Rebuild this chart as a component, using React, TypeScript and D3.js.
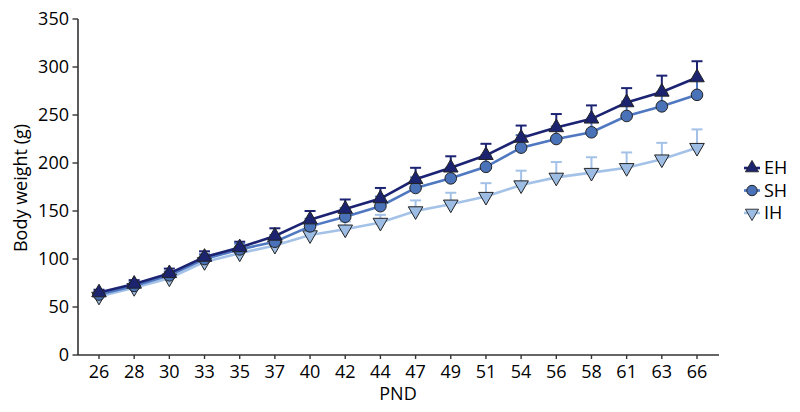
import React from "react";
import * as d3 from "d3";

const width = 800;
const height = 412;

const days = ["26", "28", "30", "33", "35", "37", "40", "42", "44", "47", "49", "51", "54", "56", "58", "61", "63", "66"];
const ehMean = [65, 74, 85, 102, 112, 124, 141, 152, 163, 183, 195, 208, 226, 237, 246, 263, 274, 289];
const ehSd = [3, 4, 5, 6, 6, 8, 9, 10, 11, 12, 12, 12, 13, 14, 14, 15, 17, 17];
const shMean = [63, 72, 83, 100, 110, 118, 134, 144, 155, 174, 184, 196, 216, 225, 232, 249, 259, 271];
const shSd = [3, 4, 4, 5, 6, 7, 8, 9, 10, 11, 11, 12, 13, 13, 14, 15, 15, 16];
const ihMean = [61, 70, 80, 97, 106, 114, 125, 131, 138, 150, 157, 165, 177, 185, 190, 195, 204, 216];
const ihSd = [3, 4, 4, 5, 5, 6, 7, 8, 8, 11, 12, 14, 15, 16, 16, 16, 17, 19];
const yTicks = [0, 50, 100, 150, 200, 250, 300, 350];

const font = "'Open Sans', sans-serif";
const axisColor = "#333";

// drawn back to front
const series = [
  { name: "IH", mean: ihMean, sd: ihSd, line: "#a4c2e8", fill: "#9dbce4", shape: "down" },
  { name: "SH", mean: shMean, sd: shSd, line: "#4f78c0", fill: "#4a72b8", shape: "circle" },
  { name: "EH", mean: ehMean, sd: ehSd, line: "#1c2372", fill: "#1c2470", shape: "up" },
];
const legendOrder = ["EH", "SH", "IH"];

const x = d3.scalePoint<string>().domain(days).range([99, 697]);
const y = d3.scaleLinear().domain([0, 350]).range([355, 19]);

const triangle = d3.symbol(d3.symbolTriangle, 92)();

function Marker({ shape, fill, cx, cy, scale = 1 }) {
  if (shape === "circle") {
    return <circle cx={cx} cy={cy} r={5.8 * scale} fill={fill} stroke="#222" strokeWidth={1} />;
  }
  const rot = shape === "down" ? 180 : 0;
  return (
    <path
      d={triangle}
      transform={`translate(${cx},${cy}) rotate(${rot}) scale(${scale})`}
      fill={fill}
      stroke="#222"
      strokeWidth={1}
    />
  );
}

export default function App() {
  const line = d3.line<number>().x((_, i) => x(days[i])).y((d) => y(d));
  return (
    <svg width={width} height={height} style={{ position: "absolute", left: 0, top: 0, background: "#fff" }}>
      {/* axes */}
      <line x1={78} x2={78} y1={19} y2={355} stroke={axisColor} strokeWidth={1.6} />
      <line x1={78} x2={719} y1={355} y2={355} stroke={axisColor} strokeWidth={1.6} />
      {yTicks.map((t) => (
        <g key={t}>
          <line x1={72.5} x2={78} y1={y(t)} y2={y(t)} stroke={axisColor} strokeWidth={1.4} />
          <text x={69} y={y(t)} dy="0.36em" textAnchor="end" fontFamily={font} fontSize={18} fill="#000">
            {t}
          </text>
        </g>
      ))}
      {days.map((d) => (
        <g key={d}>
          <line x1={x(d)} x2={x(d)} y1={355} y2={359} stroke={axisColor} strokeWidth={1.4} />
          <text x={x(d)} y={378} textAnchor="middle" fontFamily={font} fontSize={18} fill="#000">
            {d}
          </text>
        </g>
      ))}
      <text x={398} y={400} textAnchor="middle" fontFamily={font} fontSize={18} fill="#000">
        PND
      </text>
      <text
        transform="translate(27,188) rotate(-90)"
        textAnchor="middle"
        fontFamily={font}
        fontSize={18}
        fill="#000"
      >
        Body weight (g)
      </text>

      {/* series */}
      {series.map((s) => (
        <g key={s.name}>
          {s.mean.map((m, i) => (
            <g key={i} stroke={s.line} strokeWidth={2}>
              <line x1={x(days[i])} x2={x(days[i])} y1={y(m)} y2={y(m + s.sd[i])} />
              <line x1={x(days[i]) - 5.5} x2={x(days[i]) + 5.5} y1={y(m + s.sd[i])} y2={y(m + s.sd[i])} />
            </g>
          ))}
          <path d={line(s.mean)} fill="none" stroke={s.line} strokeWidth={2.6} />
          {s.mean.map((m, i) => (
            <Marker key={i} shape={s.shape} fill={s.fill} cx={x(days[i])} cy={y(m)} />
          ))}
        </g>
      ))}

      {/* legend */}
      {legendOrder.map((name, i) => {
        const s = series.find((d) => d.name === name);
        const cy = 168 + i * 22.5;
        return (
          <g key={name}>
            <line x1={744} x2={760} y1={cy} y2={cy} stroke={s.line} strokeWidth={2.6} />
            <Marker shape={s.shape} fill={s.fill} cx={752} cy={cy} scale={0.9} />
            <text x={764} y={cy} dy="0.36em" fontFamily={font} fontSize={18} fill="#000">
              {name}
            </text>
          </g>
        );
      })}
    </svg>
  );
}
